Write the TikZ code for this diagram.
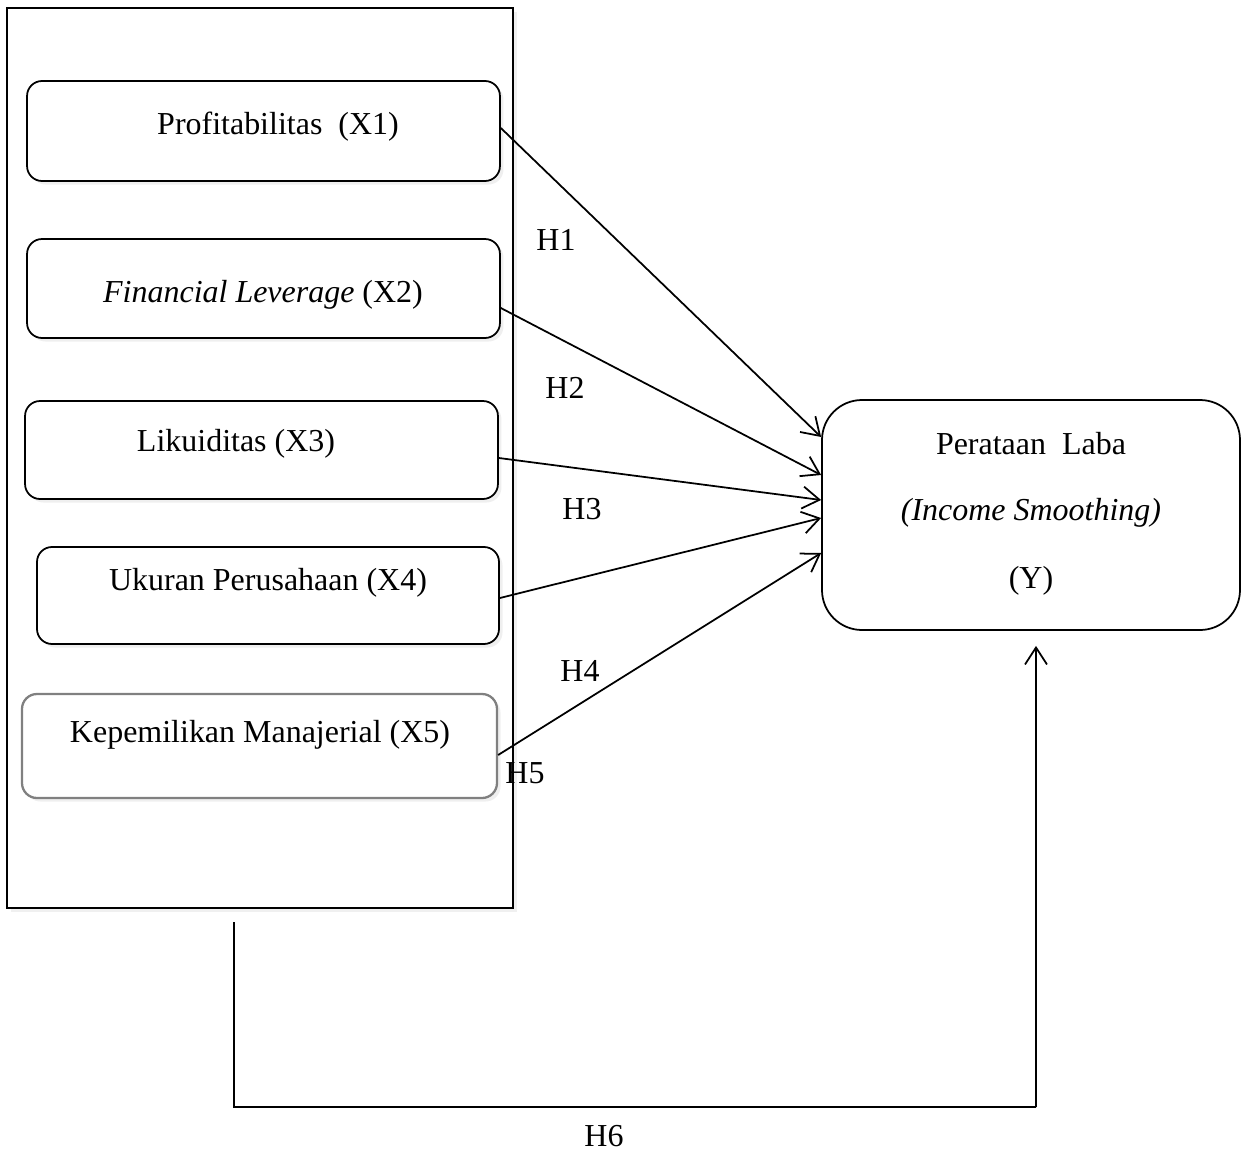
\documentclass[tikz,border=0pt]{standalone}
\usepackage{fontspec}
\setmainfont{Liberation Serif}
\usetikzlibrary{arrows.meta,shadows}
\begin{document}
\begin{tikzpicture}[x=0.02cm,y=-0.02cm,
  txt/.style={font=\fontsize{18.2}{22}\selectfont, inner sep=0pt, yshift=-0.06cm},
  shd/.style={drop shadow={opacity=0.12, shadow xshift=2pt, shadow yshift=-2pt}},
  varbox/.style={draw, line width=1pt, rounded corners=0.3cm, fill=white, shd, minimum width=9.46cm, inner sep=0pt},
  conn/.style={line width=1pt, -{Straight Barb[length=0.34cm,width=0.44cm,line width=1pt]}},
  plain/.style={line width=1pt}]
\useasboundingbox (0,0) rectangle (1249,1153);
% outer frame
\node[draw, line width=1.3pt, fill=white, shd, minimum width={506*0.02cm}, minimum height={900*0.02cm}, inner sep=0pt] (outer) at (260,458) {};
% variable boxes
\node[varbox, minimum height={100*0.02cm}] (x1) at (263.5,131) {};
\node[varbox, minimum height={99*0.02cm}] (x2) at (263.5,288.5) {};
\node[varbox, minimum height={98*0.02cm}] (x3) at (261.5,450) {};
\node[varbox, minimum width={462*0.02cm}, minimum height={97*0.02cm}] (x4) at (268,595.5) {};
\node[varbox, draw=black!50, line width=1.3pt, minimum width={475*0.02cm}, minimum height={104*0.02cm}] (x5) at (259.5,746) {};
\node[draw, line width=1pt, rounded corners=0.8cm, fill=white, minimum width={418*0.02cm}, minimum height={230*0.02cm}, inner sep=0pt] (y) at (1031,515) {};
% texts
\node[txt] (t1) at (278,124) {Profitabilitas~ (X1)};
\node[txt] (t2) at (263,292) {\textit{Financial Leverage} (X2)};
\node[txt] (t3) at (236,441) {Likuiditas (X3)};
\node[txt] (t4) at (268,580) {Ukuran Perusahaan (X4)};
\node[txt] (t5) at (260,732) {Kepemilikan Manajerial (X5)};
\node[txt] (ty1) at (1031,441) {Perataan~ Laba};
\node[txt] (ty2) at (1031,510) {\textit{(Income Smoothing)}};
\node[txt] (ty3) at (1031,578) {(Y)};
% connectors
\draw[conn] (x1.east |- 0,128) -- (y.west |- 0,437);
\draw[conn] (x2.east |- 0,308) -- (y.west |- 0,475);
\draw[conn] (x3.east |- 0,458) -- (y.west |- 0,500);
\draw[conn] (x4.east |- 0,598) -- (y.west |- 0,518);
\draw[conn] (x5.east |- 0,755) -- (y.west |- 0,553);
% labels
\node[txt] (h1) at (556,237) {H1};
\node[txt] (h2) at (565,385) {H2};
\node[txt] (h3) at (582,506) {H3};
\node[txt] (h4) at (580,668) {H4};
\node[txt] (h5) at (525,770) {H5};
\node[txt] (h6) at (604,1133) {H6};
% H6 path
\coordinate (b1) at (234,922);
\coordinate (b2) at (234,1107);
\coordinate (b3) at (1036,1107);
\draw[plain] (b1) -- (b2) -- (b3);
\draw[conn] (b3) -- ([xshift=0.1cm,yshift=-0.3cm]y.south);
\end{tikzpicture}
\end{document}
